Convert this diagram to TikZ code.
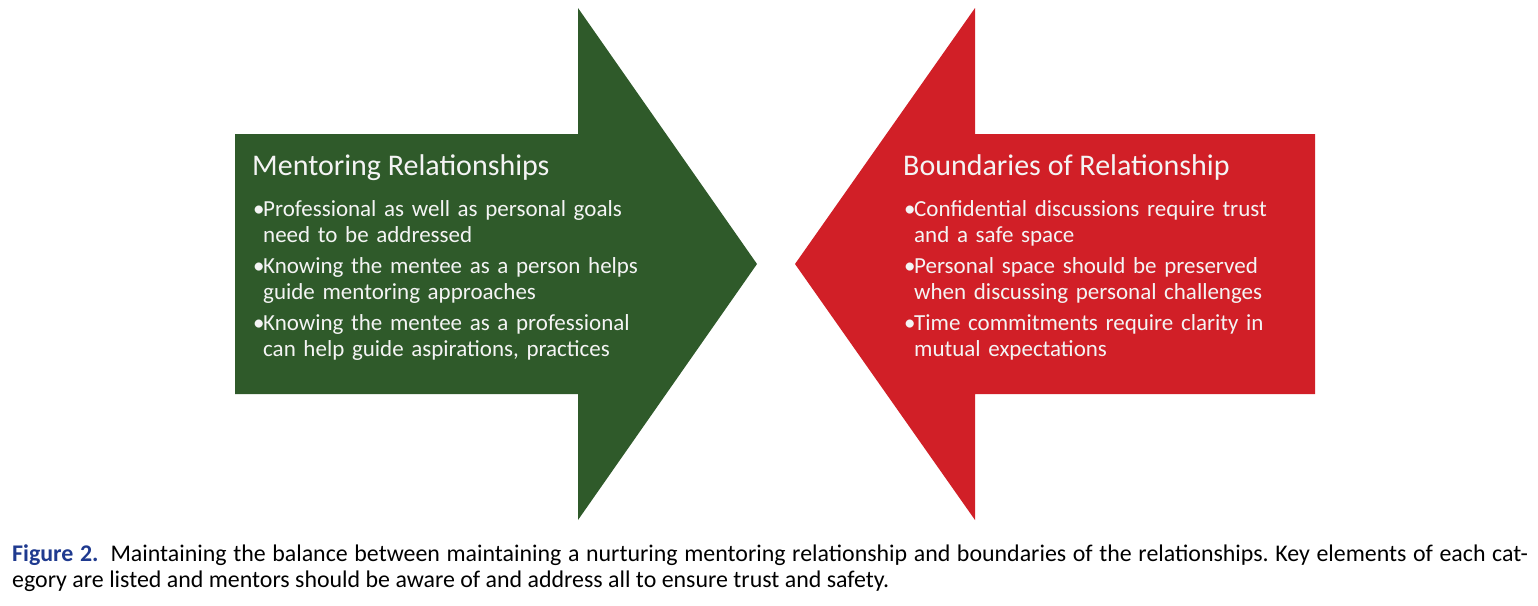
\documentclass[tikz,border=0pt]{standalone}
\usepackage{fontspec}
\setmainfont{Carlito}
\newfontfamily\capfont{Carlito}
\newfontfamily\figfont{Carlito}
\definecolor{mgreen}{HTML}{2F5A2A}
\definecolor{mred}{HTML}{D11F27}
\definecolor{figblue}{HTML}{1F3A8F}
\definecolor{txtw}{HTML}{F4F4F4}
\newcommand\bitem[1]{\hangindent=10pt\hangafter=1\noindent\makebox[10pt][l]{•}#1\par}
\tikzset{
  titletext/.style={anchor=base west, inner sep=0pt, text=txtw, font=\fontsize{30}{36}\selectfont},
  bullettext/.style={anchor=base west, inner sep=0pt, text=txtw, text width=420pt, align=left,
     font=\fontsize{23}{26}\selectfont},
  captext/.style={anchor=base west, inner sep=0pt, text width=1516pt, align=justify,
     font=\capfont\fontsize{23.9}{26.5}\selectfont}
}
\begin{document}
\begin{tikzpicture}[x=1pt,y=-1pt]
\useasboundingbox (0,0) rectangle (1538,605);
% green arrow
\coordinate (g1) at (235,134); \coordinate (g2) at (578,134); \coordinate (g3) at (578,8);
\coordinate (gt) at (757,264); \coordinate (g4) at (578,520); \coordinate (g5) at (578,394);
\coordinate (g6) at (235,394);
\fill[mgreen] (g1) -- (g2) -- (g3) -- (gt) -- (g4) -- (g5) -- (g6) -- cycle;
% red arrow
\coordinate (r1) at (1315,134); \coordinate (r2) at (975,134); \coordinate (r3) at (975,8);
\coordinate (rt) at (795,264); \coordinate (r4) at (975,520); \coordinate (r5) at (975,394);
\coordinate (r6) at (1315,394);
\fill[mred] (r1) -- (r2) -- (r3) -- (rt) -- (r4) -- (r5) -- (r6) -- cycle;
% texts
\node[titletext] (gtitle) at (252,175) {Mentoring Relationships};
\node[bullettext] (glist) at (253,216.5) {%
\bitem{Professional as well as personal goals\newline need to be addressed}\vspace{5pt}%
\bitem{Knowing the mentee as a person helps\newline guide mentoring approaches}\vspace{5pt}%
\bitem{Knowing the mentee as a professional\newline can help guide aspirations, practices}};
\node[titletext] (rtitle) at (903,175) {Boundaries of Relationship};
\node[bullettext] (rlist) at (904,216.5) {%
\bitem{Confidential discussions require trust\newline and a safe space}\vspace{5pt}%
\bitem{Personal space should be preserved\newline when discussing personal challenges}\vspace{5pt}%
\bitem{Time commitments require clarity in\newline mutual expectations}};
\node[captext] (cap) at (12,561) {\frenchspacing{\figfont\bfseries\color{figblue}Figure 2.}\enspace Maintaining the balance between maintaining a nurturing mentoring relationship and boundaries of the relationships. Key elements of each cat-\linebreak egory are listed and mentors should be aware of and address all to ensure trust and safety.};
\end{tikzpicture}
\end{document}
